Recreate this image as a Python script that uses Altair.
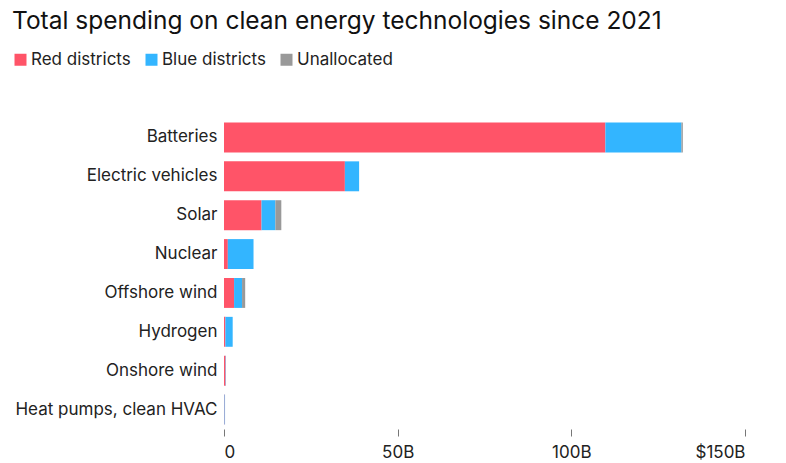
import altair as alt
import pandas as pd

categories = ["Batteries", "Electric vehicles", "Solar", "Nuclear", "Offshore wind",
              "Hydrogen", "Onshore wind", "Heat pumps, clean HVAC"]
red_vals = [109.8, 34.8, 10.8, 1.1, 2.9, 0.4, 0.45, 0.15]
blue_vals = [21.9, 4.1, 4.0, 7.4, 2.3, 2.1, 0.1, 0.15]
unalloc_vals = [0.4, 0.0, 1.7, 0.0, 0.9, 0.0, 0.0, 0.0]
series = ["Red districts", "Blue districts", "Unallocated"]
colors = ["#FF5468", "#33B5FF", "#999999"]

rows = []
for i, c in enumerate(categories):
    for j, (s, vals) in enumerate(zip(series, [red_vals, blue_vals, unalloc_vals])):
        rows.append({"category": c, "series": s, "value": vals[i], "order": j})
df = pd.DataFrame(rows)

FONT = "Inter"

chart = alt.Chart(df).mark_bar().encode(
    y=alt.Y("category:N", sort=categories, title=None,
            scale=alt.Scale(paddingInner=0.23, paddingOuter=0.115),
            axis=alt.Axis(ticks=False, domain=False, labelFontSize=17, labelColor="#222222",
                          labelPadding=7, labelFont=FONT, labelLimit=300)),
    x=alt.X("value:Q", stack="zero", title=None,
            scale=alt.Scale(domain=[0, 150], nice=False),
            axis=alt.Axis(values=[0, 50, 100, 150], domain=False, grid=False,
                          tickColor="#777777", tickSize=7, offset=0,
                          labelFontSize=17, labelColor="#222222", labelPadding=8, labelFont=FONT,
                          labelExpr="datum.value == 0 ? '0' : (datum.value == 150 ? '$' + datum.value + 'B' : datum.value + 'B')")),
    color=alt.Color("series:N", sort=series,
                    scale=alt.Scale(domain=series, range=colors),
                    legend=alt.Legend(title=None, orient="none", direction="horizontal",
                                      legendX=-212, legendY=-67, symbolType="square",
                                      symbolSize=144, symbolStrokeWidth=0, labelFontSize=17,
                                      labelColor="#222222", labelFont=FONT, columnPadding=12,
                                      labelOffset=2)),
    order=alt.Order("order:Q"),
).properties(
    width=521, height=311,
    title=alt.TitleParams("Total spending on clean energy technologies since 2021",
                          anchor="start", frame="group", dx=-212, offset=0, dy=2,
                          baseline="alphabetic", fontSize=24.5, fontWeight="normal",
                          color="#111111", font=FONT),
    autosize=alt.AutoSizeParams(type="none"),
    padding={"left": 224, "top": 118, "right": 41, "bottom": 34},
).configure_view(stroke=None)

chart.save("out.html", embed_options={"renderer": "svg", "actions": False})
